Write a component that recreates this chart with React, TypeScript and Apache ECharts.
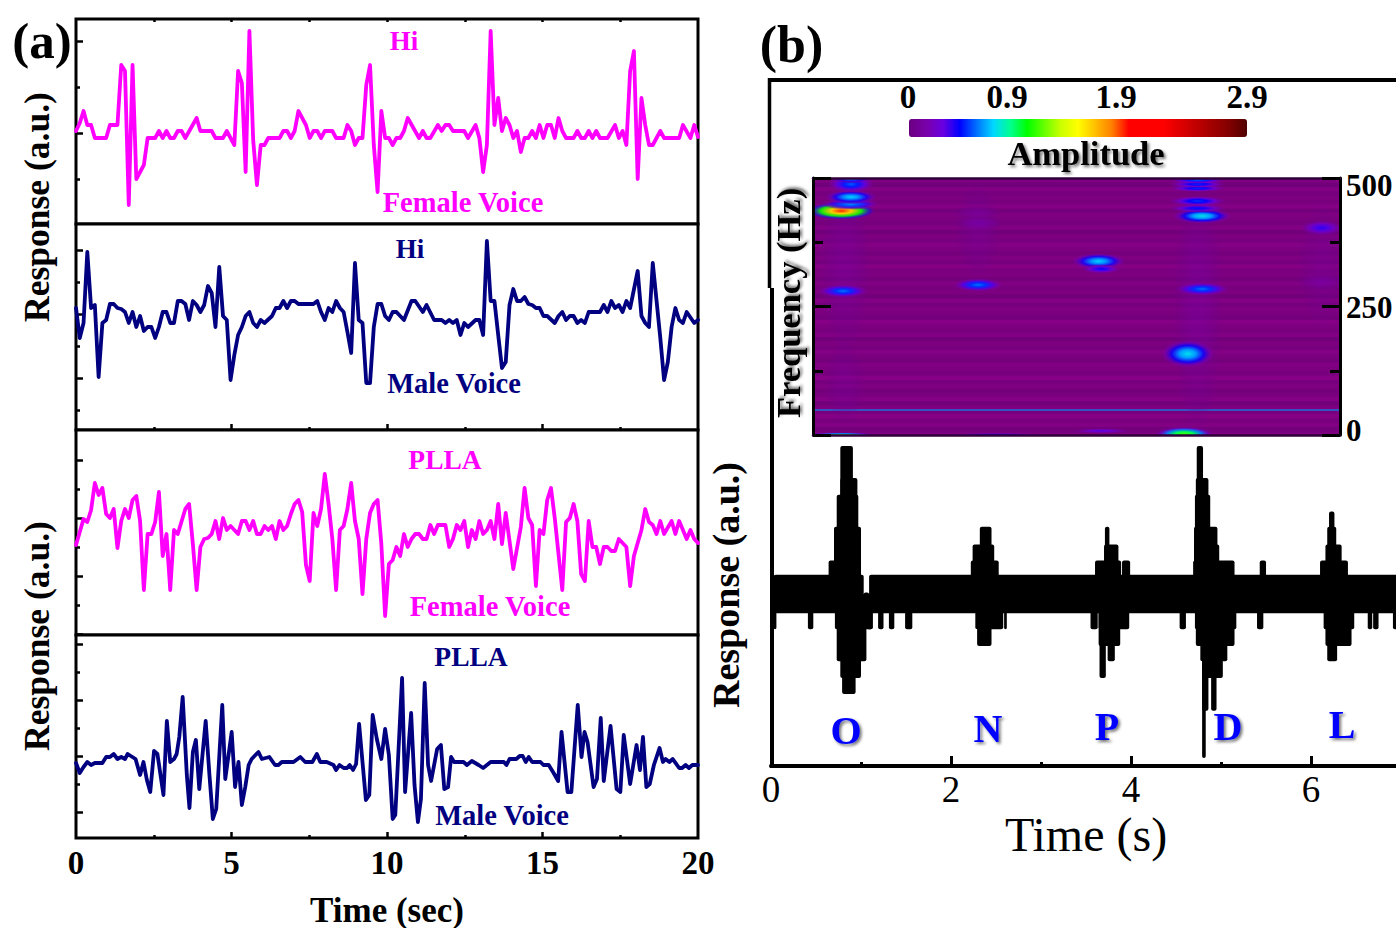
import React, { useEffect, useRef } from "react";
import * as echarts from "echarts";

const FONT = '"Liberation Serif", "Times New Roman", serif';
const MAGENTA = "#ff00ff";
const NAVY = "#000080";
const LETTER_BLUE = "#0000ff";

// Panel (a): all four traces share one sampling step. Each pair is [sample number, response in a.u.].
const SAMPLE_STEP_SEC = 20 / 165;

const hiFemale = [[0,2],[1,10],[2,22],[3,8],[4,8],[5,-5],[8,-5],[9,8],[11,8],[12,68],[13,62],[14,-72],[15,68],[16,-46],[18,-32],[19,-5],[21,-5],[22,2],[23,-5],[24,2],[25,-5],[26,-5],[27,2],[28,2],[29,-5],[32,15],[33,2],[36,2],[37,-5],[39,-5],[40,2],[42,-12],[43,62],[44,50],[45,-39],[46,102],[47,-7],[48,-52],[49,-12],[50,-12],[51,-5],[54,-5],[55,2],[56,2],[57,-5],[58,2],[59,22],[61,8],[62,-5],[63,2],[64,2],[65,-5],[66,2],[68,2],[69,-5],[71,-5],[72,8],[73,2],[74,-12],[75,-5],[76,-5],[77,48],[78,68],[79,-12],[80,-59],[81,22],[82,-5],[83,-5],[84,-12],[85,-5],[86,-5],[87,2],[88,15],[91,-5],[92,2],[93,-5],[94,-5],[96,8],[97,2],[98,8],[99,8],[100,2],[103,2],[104,-5],[106,8],[107,-5],[108,-39],[109,-12],[110,102],[111,8],[112,35],[113,2],[114,15],[115,8],[116,-5],[117,2],[118,-19],[119,-5],[120,-5],[121,2],[122,-5],[123,8],[124,-5],[125,8],[126,8],[127,-5],[128,15],[129,2],[130,-5],[132,-5],[133,2],[134,-5],[135,-5],[136,2],[137,-5],[138,2],[139,-5],[141,-5],[143,8],[144,-5],[145,2],[146,-12],[147,62],[148,82],[149,-46],[150,35],[151,8],[152,-12],[153,-12],[155,2],[156,-5],[160,-5],[161,8],[163,-5],[164,8],[165,-4]];

const hiMale = [[0,6],[1,-24],[2,-9],[3,62],[4,6],[5,9],[6,-63],[7,-9],[8,-6],[9,10],[10,10],[11,6],[12,5],[13,2],[14,-9],[15,2],[16,-13],[17,-2],[18,-17],[19,-13],[20,-13],[21,-24],[22,-13],[23,2],[24,2],[25,-9],[26,-9],[27,13],[28,13],[29,10],[30,-6],[31,13],[32,9],[33,2],[34,9],[35,28],[36,21],[37,-13],[38,47],[39,-2],[40,-6],[41,-66],[42,-41],[43,-21],[44,-13],[45,-2],[46,2],[47,-9],[48,-13],[49,-6],[50,-9],[52,-2],[53,6],[54,6],[55,13],[56,6],[57,13],[58,13],[59,10],[63,10],[64,13],[65,2],[66,-6],[67,6],[68,2],[69,13],[70,6],[71,2],[72,-18],[73,-39],[74,51],[75,-6],[76,-9],[77,-69],[78,-69],[79,-13],[80,10],[81,10],[82,-2],[83,-6],[84,2],[85,2],[87,-6],[89,13],[90,13],[92,2],[93,9],[95,-6],[97,-6],[98,-9],[99,-6],[100,-9],[101,-6],[102,-21],[103,-9],[104,-13],[106,-6],[107,-6],[108,-21],[109,73],[110,13],[111,13],[112,-21],[113,-54],[114,-48],[115,9],[116,25],[117,13],[118,13],[119,17],[120,10],[121,9],[122,6],[123,6],[124,-2],[125,-2],[127,-9],[128,-2],[129,2],[130,-6],[131,-2],[132,-2],[133,-9],[134,-6],[135,-9],[136,2],[139,2],[140,9],[141,2],[142,13],[143,6],[144,9],[145,2],[146,13],[147,6],[149,43],[150,-2],[151,-9],[152,-13],[153,51],[155,-24],[156,-66],[157,-48],[158,-13],[159,6],[160,-6],[161,-9],[162,2],[164,-9],[165,-6]];

const pllaFemale = [[0,-27],[1,-14],[2,-1],[3,-4],[4,8],[5,35],[6,23],[7,30],[8,4],[9,0],[10,9],[11,-30],[12,-3],[13,9],[14,0],[15,18],[16,22],[17,-3],[18,-72],[19,-16],[20,-16],[21,-4],[22,26],[23,-38],[24,-16],[25,-72],[26,-12],[27,-16],[29,9],[30,14],[31,-26],[32,-72],[33,-29],[34,-21],[35,-20],[36,-16],[37,-3],[38,-21],[39,0],[40,-12],[41,-8],[43,-16],[44,-3],[45,-3],[46,-12],[47,-3],[48,-16],[49,-16],[50,-8],[51,-12],[52,-8],[53,-21],[54,-3],[55,-12],[56,-8],[57,4],[58,14],[59,18],[60,6],[61,-47],[62,-63],[63,5],[64,-8],[65,9],[66,44],[67,14],[68,-21],[69,-72],[70,-12],[71,-8],[72,9],[73,35],[74,-3],[75,-21],[76,-76],[77,-21],[78,5],[79,14],[80,18],[81,-26],[82,-98],[83,-46],[84,-42],[85,-29],[86,-38],[87,-16],[88,-29],[89,-21],[90,-16],[91,-16],[92,-21],[93,-21],[94,-7],[95,-16],[96,-7],[98,-7],[99,-29],[100,-21],[101,-7],[102,-12],[103,-3],[104,-29],[105,-12],[106,-21],[107,-3],[108,-16],[109,-12],[110,-3],[111,-21],[112,14],[113,-26],[114,5],[116,-51],[118,-9],[119,30],[120,0],[121,-7],[122,-68],[123,-12],[124,-16],[125,18],[126,30],[127,0],[129,-72],[130,-4],[131,0],[132,14],[133,-3],[134,-56],[135,-63],[136,-3],[137,-29],[138,-29],[139,-46],[140,-29],[141,-29],[142,-33],[143,-33],[144,-21],[146,-29],[147,-68],[148,-38],[150,-12],[151,9],[152,-4],[153,-7],[154,-16],[155,-3],[156,-16],[158,-3],[159,-16],[160,-3],[162,-21],[163,-12],[164,-21],[165,-25]];

const pllaMale = [[0,-7],[1,-17],[2,-11],[3,-6],[4,-9],[5,-7],[7,-7],[8,-1],[9,-1],[10,2],[11,-3],[12,-1],[13,-3],[13.7,2],[15.8,-3],[17,-19],[17.9,-6],[18.8,-24],[19.7,-36],[20.7,5],[21.6,2],[23.2,-39],[24.1,35],[25,-6],[26,-3],[26.7,2],[27.4,19],[28.3,59],[29.4,-19],[30.1,-52],[31,4],[31.8,16],[32.7,-33],[34.4,35],[35.4,-19],[36.3,-63],[37.2,-53],[38.8,51],[39.6,-23],[41.3,24],[42.2,-31],[43.1,-6],[44,-49],[44.9,-31],[45.8,-9],[46.6,-3],[48.4,4],[49.3,-3],[51.3,-1],[52.8,-9],[53.7,-9],[54.6,-6],[57.7,-6],[59.5,-1],[60.8,-6],[62.7,-6],[63.9,2],[64.8,-6],[66.5,-6],[68.3,-9],[69,-14],[69.9,-9],[71,-12],[71.9,-12],[72.6,-9],[73.5,-14],[74.3,-8],[75.1,32],[76.9,-44],[77.8,-39],[78.7,41],[79.8,17],[81,-3],[82,27],[83,1],[84,-63],[84.7,-59],[86.5,78],[87.3,-36],[88.9,43],[89.8,-29],[90.7,-66],[91.5,-43],[92.5,73],[93.4,-9],[94.2,-25],[95.8,7],[96.8,11],[97.7,-33],[98.7,-31],[99.5,-1],[100.3,-6],[102.8,-6],[103.7,-9],[105,-5],[106.8,-9],[108,-12],[110,-6],[113.5,-6],[114.2,-9],[115,-3],[116.8,-3],[117.7,0],[118.5,0],[119.3,-6],[120.1,-1],[121,-6],[123.2,-6],[124,-9],[125.4,-9],[126.7,-17],[127.9,-25],[128.8,24],[130.4,-36],[131.4,-36],[133.1,51],[134.1,-1],[134.9,24],[135.7,14],[137.3,-31],[138.2,-23],[139.2,38],[140,-25],[141.8,30],[143.4,-33],[144.4,-36],[145.3,21],[147,-28],[148.7,11],[149.6,-14],[150.4,19],[151.3,-31],[152.2,-28],[153.3,-9],[154.8,8],[155.7,-6],[156.4,-3],[157.4,-6],[158.3,-3],[160,-12],[160.8,-12],[161.7,-9],[162.6,-12],[163.5,-9],[165,-9]];

const timeMajorTicks = [5, 10, 15];
const timeMinorTicks = [2.5, 7.5, 12.5, 17.5];
const timeLabels = [0, 5, 10, 15, 20];

// Panel (b): waveform columns, each [start s, end s, upper level, lower level].
const waveBand = [[0.03,1.03,1.2,-1.2],[1.03,1.09,0.1,-1.2],[1.09,7.0,1.2,-1.2]];
const waveSpikes = [
  [0.03,0.06,0,-2.2],[0.41,0.47,0,-2.2],[1.06,1.13,0,-2.2],[1.19,1.25,0,-2.2],[1.31,1.37,0,-2.2],[1.49,1.57,0,-2.2],
  [2.59,2.62,0,-2.2],[3.55,3.63,0,-2.2],[3.90,3.99,2.1,0],[4.54,4.61,0,-2.2],[5.43,5.50,2.1,0],[5.40,5.47,0,-2.2],
  [6.63,6.68,0,-2.2],[6.69,6.75,0,-2.2],[6.91,7.0,0,-2.2],
];
const waveO = [[0.64,1.00,2.1,0],[0.70,1.00,4.2,0],[0.73,0.97,6.2,0],[0.77,0.96,7.25,0],[0.77,0.91,9.25,0],[0.71,1.13,0,-2.2],[0.73,1.06,0,-4.2],[0.77,1.00,0,-5.25],[0.79,0.94,0,-6.25]];
const waveN = [[2.22,2.53,2.1,0],[2.24,2.48,3.1,0],[2.32,2.45,4.2,0],[2.27,2.58,0,-2.2],[2.29,2.45,0,-3.25]];
const waveP = [[3.60,3.89,2.1,0],[3.70,3.86,3.1,0],[3.71,3.76,4.2,0],[3.64,3.98,0,-2.2],[3.64,3.88,0,-3.25],[3.74,3.82,0,-4.2],[3.65,3.72,0,-5.25]];
const waveD = [[4.69,5.15,2.1,0],[4.70,4.98,3.1,0],[4.70,4.96,4.2,0],[4.71,4.88,6.2,0],[4.72,4.86,7.25,0],[4.73,4.80,9.25,0],[4.71,5.17,0,-2.2],[4.72,5.15,0,-3.25],[4.77,5.07,0,-4.2],[4.79,5.02,0,-5.25],[4.79,4.86,0,-7.3],[4.89,4.95,0,-7.3],[4.79,4.83,0,-10.25]];
const waveL = [[6.10,6.41,2.1,0],[6.16,6.34,3.1,0],[6.18,6.28,4.2,0],[6.20,6.26,5.15,0],[6.14,6.48,0,-2.2],[6.16,6.45,0,-3.25],[6.18,6.29,0,-4.2]];

// Spectrogram: hot spots [time s, frequency Hz, half-width s, half-height Hz, amplitude].
const spectrogramSpots = [
  [0.82,330,0.27,170,0.14],[0.82,100,0.22,80,0.12],[4.74,250,0.27,250,0.15],[2.30,400,0.24,90,0.12],[6.12,330,0.25,120,0.12],
  [0.78,436,0.38,17,1.85],[0.88,449,0.32,11,0.62],[0.89,463,0.29,14,0.72],[0.89,488,0.26,17,0.55],[0.89,500,0.26,10,0.7],
  [0.80,280,0.28,13,0.58],[2.30,292,0.28,13,0.58],[3.64,338,0.3,16,0.72],[3.67,323,0.22,9,0.42],
  [4.79,284,0.3,13,0.58],[4.79,426,0.33,15,0.76],[4.74,441,0.32,8,0.45],[4.74,455,0.32,10,0.5],
  [4.74,480,0.32,7,0.48],[4.74,488,0.32,7,0.48],[4.74,496,0.32,7,0.55],[4.63,158,0.3,27,0.75],
  [6.12,403,0.24,15,0.38],[6.12,298,0.28,16,0.18],[2.31,412,0.28,15,0.2],[2.29,432,0.28,13,0.15],
  [4.59,2,0.32,14,1.1],[0.78,0,0.4,5,1.1],[3.67,8,0.32,5,0.34],[2.5,0,0.6,4,0.5],
];
const spectrogramFaintRows = [0.06,0.02,0.09,0.04,0.11,0.03,0.07,0.01,0.1,0.05,0.02,0.08,0.04,0.12,0.03,0.06,0.09,0.02,0.05,0.1,0.03,0.07,0.01,0.09,0.04,0.06,0.11,0.02,0.05,0.08,0.03,0.1,0.01,0.06,0.04,0.09,0.02,0.07,0.05,0.11,0.03,0.08,0.02,0.06,0.1,0.04,0.07,0.01,0.09,0.03,0.05,0.08,0.02,0.11,0.04,0.06,0.03,0.09,0.01,0.07];
const bandLineFrequency = 48.6;

const amplitudeMax = 2.9;
const colormap = ["#6a0080","#7a00a8","#6a00e0","#0000ff","#0070ff","#00d8ff","#00ff90","#00ff00","#66ff00","#ccff00","#ffff00","#ffc000","#ff8000","#ff0000","#ff0000","#ff0000","#e00000","#c00000","#a00000","#800000","#500000"];

function hex2(c: string) {
  return [1, 3, 5].map((i) => parseInt(c.slice(i, i + 2), 16));
}
function colorAt(v: number, alpha = 1) {
  const f = Math.max(0, Math.min(0.9999, v / amplitudeMax)) * (colormap.length - 1);
  const i = Math.floor(f);
  const a = hex2(colormap[i]);
  const b = hex2(colormap[i + 1]);
  const m = a.map((x, k) => Math.round(x + (b[k] - x) * (f - i)));
  return `rgba(${m[0]},${m[1]},${m[2]},${alpha})`;
}
function rowColor(level: number) {
  return `rgb(${Math.round(112 + level * 200)},0,${Math.round(122 + level * 100)})`;
}

const toTrace = (d: number[][]) => d.map(([n, v]) => [n * SAMPLE_STEP_SEC, v]);

const panels = [
  { top: 19, height: 205, min: -91, max: 114, major: [92, 0, -92], minor: [46, -46], data: hiFemale, color: MAGENTA, ticksAt: "top" },
  { top: 224, height: 206, min: -116, max: 90, major: [64, 0, -64], minor: [32, -32, -96], data: hiMale, color: NAVY, ticksAt: "bottom" },
  { top: 430, height: 205, min: -117, max: 88, major: [58, 0, -58, -116], minor: [29, -29, -87], data: pllaFemale, color: MAGENTA, ticksAt: "none" },
  { top: 635, height: 203, min: -82, max: 121, major: [112, 56, 0, -56], minor: [84, 28, -28], data: pllaMale, color: NAVY, ticksAt: "labels" },
];

const texts: any[] = [
  ["(a)", 42, 41, 51, "#000", 0],
  ["Time (sec)", 387, 910, 35, "#000", 0],
  ["Hi", 404, 41, 27, MAGENTA, 0],
  ["Female Voice", 463, 202, 28.5, MAGENTA, 0],
  ["Hi", 410, 249, 27, NAVY, 0],
  ["Male Voice", 454, 383, 28.5, NAVY, 0],
  ["PLLA", 445, 459, 27.5, MAGENTA, 0],
  ["Female Voice", 490, 606, 28.5, MAGENTA, 0],
  ["PLLA", 471, 656.5, 27.5, NAVY, 0],
  ["Male Voice", 502, 815, 28.5, NAVY, 0],
  ["Response (a.u.)", 37, 207, 35.5, "#000", 1],
  ["Response (a.u.)", 37, 636, 35.5, "#000", 1],
  ["(b)", 791.5, 44, 52, "#000", 0],
  ["0", 908, 97, 33, "#000", 0],
  ["0.9", 1007, 97, 33, "#000", 0],
  ["1.9", 1116, 97, 33, "#000", 0],
  ["2.9", 1247, 97, 33, "#000", 0],
  ["Response (a.u.)", 726, 585, 38, "#000", 1],
];
const shadowTexts: any[] = [
  ["Amplitude", 1086, 153, 34.5, "#000", 0],
  ["Frequency (Hz)", 788, 303, 34.5, "#000", 1],
  ["O", 846, 730, 40, LETTER_BLUE, 0],
  ["N", 988, 728, 40, LETTER_BLUE, 0],
  ["P", 1107, 726, 40, LETTER_BLUE, 0],
  ["D", 1228, 726, 40, LETTER_BLUE, 0],
  ["L", 1342, 724, 40, LETTER_BLUE, 0],
];

function makeText(t: any[], shadow: boolean) {
  return {
    type: "text",
    x: t[1],
    y: t[2],
    rotation: t[5] ? Math.PI / 2 : 0,
    z: 20,
    style: {
      text: t[0],
      fill: t[4],
      font: `bold ${t[3]}px ${FONT}`,
      textAlign: "center",
      textVerticalAlign: "middle",
      ...(shadow ? { textShadowBlur: 3, textShadowColor: "rgba(0,0,0,0.55)", textShadowOffsetX: 2, textShadowOffsetY: 2 } : {}),
    },
  };
}

function buildOption() {
  const grid: any[] = [];
  const xAxis: any[] = [];
  const yAxis: any[] = [];
  const series: any[] = [];

  const hiddenBase = { axisLine: { show: false, onZero: false }, splitLine: { show: false }, axisLabel: { show: false }, axisTick: { show: false } };

  panels.forEach((p, i) => {
    grid.push({ left: 76, top: p.top, width: 622, height: p.height, show: true, borderColor: "#000", borderWidth: 3, backgroundColor: "#fff", containLabel: false });
    const xMain = xAxis.length;
    const yMain = yAxis.length;
    const atBottom = p.ticksAt !== "top";
    const majorLen = p.ticksAt === "top" ? 3 : 6;
    const minorLen = 3;
    const tickOn = p.ticksAt !== "none";
    xAxis.push({
      ...hiddenBase, type: "value", gridIndex: i, min: 0, max: 20, position: atBottom ? "bottom" : "top",
      axisTick: { show: tickOn, inside: true, length: majorLen, customValues: timeMajorTicks, lineStyle: { color: "#000", width: 2.5 } },
      axisLabel: p.ticksAt === "labels"
        ? { show: true, customValues: timeLabels, margin: 8, color: "#000", fontFamily: FONT, fontWeight: "bold", fontSize: 33, formatter: (v: number) => String(v) }
        : { show: false },
    });
    xAxis.push({
      ...hiddenBase, type: "value", gridIndex: i, min: 0, max: 20, position: atBottom ? "bottom" : "top",
      axisTick: { show: tickOn, inside: true, length: minorLen, customValues: timeMinorTicks, lineStyle: { color: "#000", width: 2.5 } },
    });
    yAxis.push({
      ...hiddenBase, type: "value", gridIndex: i, min: p.min, max: p.max, position: "left",
      axisTick: { show: true, inside: true, length: 7, customValues: p.major, lineStyle: { color: "#000", width: 2.5 } },
    });
    yAxis.push({
      ...hiddenBase, type: "value", gridIndex: i, min: p.min, max: p.max, position: "left",
      axisTick: { show: true, inside: true, length: 4, customValues: p.minor, lineStyle: { color: "#000", width: 2.5 } },
    });
    series.push({
      type: "line", xAxisIndex: xMain, yAxisIndex: yMain, data: toTrace(p.data), showSymbol: false, symbol: "none", silent: true,
      lineStyle: { color: p.color, width: 3.8, join: "round", cap: "round" }, smooth: false, clip: false, z: 3,
    });
  });

  // Panel (b) outer axes
  const gOuter = grid.length;
  grid.push({ left: 771, top: 80, width: 625, height: 686, show: false });
  const xOuter = xAxis.length;
  xAxis.push({
    type: "value", gridIndex: gOuter, min: 0, max: 6.944, position: "bottom", splitLine: { show: false },
    axisLine: { show: true, onZero: false, lineStyle: { color: "#000", width: 4 } },
    axisTick: { show: true, inside: true, length: 10, customValues: [0, 2, 4, 6], lineStyle: { color: "#000", width: 3 } },
    axisLabel: { show: true, customValues: [0, 2, 4, 6], margin: 5, color: "#000", fontFamily: FONT, fontSize: 37, formatter: (v: number) => String(v) },
  });
  xAxis.push({
    ...hiddenBase, type: "value", gridIndex: gOuter, min: 0, max: 6.944, position: "bottom",
    axisTick: { show: true, inside: true, length: 4, customValues: [1, 3, 5], lineStyle: { color: "#000", width: 3 } },
  });
  xAxis.push({
    ...hiddenBase, type: "value", gridIndex: gOuter, min: 0, max: 6.944, position: "top",
    axisLine: { show: true, onZero: false, lineStyle: { color: "#000", width: 4 } },
  });
  const yOuter = yAxis.length;
  yAxis.push({ ...hiddenBase, type: "value", gridIndex: gOuter, min: -10.75, max: 32.125, position: "left" });

  const waveColumns = [...waveBand, ...waveSpikes, ...waveO, ...waveN, ...waveP, ...waveD, ...waveL];
  series.push({
    type: "custom", xAxisIndex: xOuter, yAxisIndex: yOuter, data: waveColumns, silent: true, clip: false, z: 3,
    encode: { x: [0, 1], y: [2, 3] },
    renderItem: (_p: any, api: any) => {
      const a = api.coord([api.value(0), api.value(2)]);
      const b = api.coord([api.value(1), api.value(3)]);
      return {
        type: "rect",
        shape: { x: a[0], y: a[1], width: Math.max(b[0] - a[0], 2), height: b[1] - a[1], r: 2 },
        style: { fill: "#000" },
      };
    },
  });

  // Spectrogram
  const gSpec = grid.length;
  grid.push({ left: 813, top: 178, width: 527, height: 257, show: true, backgroundColor: "#74008a", borderWidth: 0, borderColor: "transparent" });
  const tMin = 0.467;
  const tMax = 6.322;
  const xSpec = xAxis.length;
  xAxis.push({ ...hiddenBase, type: "value", gridIndex: gSpec, min: tMin, max: tMax, position: "bottom", z: 6,
    axisLine: { show: true, onZero: false, lineStyle: { color: "#30003a", width: 2.5 } } });
  xAxis.push({ ...hiddenBase, type: "value", gridIndex: gSpec, min: tMin, max: tMax, position: "top", z: 6,
    axisLine: { show: true, onZero: false, lineStyle: { color: "#30003a", width: 2.5 } } });
  const ySpec = yAxis.length;
  const specAxis = (position: string, values: number[], length: number, line: boolean) => ({
    ...hiddenBase, type: "value", gridIndex: gSpec, min: 0, max: 500, position, z: 6,
    axisLine: { show: line, onZero: false, lineStyle: { color: "#000", width: 3 } },
    axisTick: { show: true, inside: true, length, customValues: values, lineStyle: { color: "#000", width: 3 } },
  });
  yAxis.push(specAxis("left", [0, 250, 500], 18, true));
  yAxis.push(specAxis("left", [125, 375], 10, false));
  yAxis.push(specAxis("right", [0, 250, 500], 18, true));
  yAxis.push(specAxis("right", [125, 375], 10, false));
  yAxis.push({
    ...hiddenBase, type: "value", gridIndex: gSpec, min: -10.2, max: 514.3, position: "right",
    axisLabel: { show: true, customValues: [0, 250, 500], margin: 6, color: "#000", fontFamily: FONT, fontWeight: "bold", fontSize: 31, formatter: (v: number) => String(v) },
  });

  const rowHeight = 500 / spectrogramFaintRows.length;
  series.push({
    type: "custom", xAxisIndex: xSpec, yAxisIndex: ySpec, silent: true, z: 3, clip: true,
    data: spectrogramFaintRows.map((level, i) => [i * rowHeight, level]),
    encode: { x: -1, y: 0 },
    renderItem: (_p: any, api: any) => {
      const a = api.coord([tMin, api.value(0) + rowHeight]);
      const b = api.coord([tMax, api.value(0)]);
      return { type: "rect", shape: { x: a[0], y: a[1], width: b[0] - a[0], height: b[1] - a[1] + 0.5 }, style: { fill: rowColor(api.value(1)) } };
    },
  });
  series.push({
    type: "line", xAxisIndex: xSpec, yAxisIndex: ySpec, silent: true, symbol: "none", z: 3,
    data: [[tMin, bandLineFrequency], [tMax, bandLineFrequency]],
    lineStyle: { color: "#1f6fd8", width: 1.5 },
  });
  const spotsIndex = series.length;
  series.push({
    type: "custom", xAxisIndex: xSpec, yAxisIndex: ySpec, silent: true, z: 4, clip: true,
    data: spectrogramSpots,
    encode: { x: 0, y: 1 },
    renderItem: (_p: any, api: any) => {
      const c = api.coord([api.value(0), api.value(1)]);
      const e = api.coord([api.value(0) + api.value(2), api.value(1) + api.value(3)]);
      const amp = api.value(4);
      const strength = Math.min(1, amp / 0.4);
      return {
        type: "ellipse",
        shape: { cx: c[0], cy: c[1], rx: Math.abs(e[0] - c[0]), ry: Math.abs(e[1] - c[1]) },
        style: {
          fill: new (echarts.graphic as any).RadialGradient(0.5, 0.5, 0.5, [
            { offset: 0, color: colorAt(amp, strength) },
            { offset: 0.3, color: colorAt(amp * 0.85, strength) },
            { offset: 0.6, color: colorAt(amp * 0.55, 0.9 * strength) },
            { offset: 0.85, color: colorAt(amp * 0.25, 0.5 * strength) },
            { offset: 1, color: colorAt(0.1, 0) },
          ]),
        },
      };
    },
  });

  return {
    animation: false,
    backgroundColor: "#fff",
    grid,
    xAxis,
    yAxis,
    series,
    visualMap: {
      type: "continuous", min: 0, max: amplitudeMax, seriesIndex: spotsIndex, dimension: 4, orient: "horizontal",
      left: 909, top: 119, itemWidth: 18, itemHeight: 338, calculable: false, realtime: false, showLabel: false, text: undefined,
      padding: 0, hoverLink: false, borderRadius: 0, itemBorderRadius: 0, inRange: { color: colormap },
    },
    graphic: [
      { type: "line", shape: { x1: 769.5, y1: 78, x2: 769.5, y2: 288 }, style: { stroke: "#000", lineWidth: 3.5 } },
      { type: "line", shape: { x1: 772, y1: 288, x2: 772, y2: 768 }, style: { stroke: "#000", lineWidth: 4 } },
      ...texts.map((t) => makeText(t, false)),
      ...shadowTexts.map((t) => makeText(t, true)),
      {
        type: "text", x: 1086, y: 834, z: 20,
        style: { text: "Time (s)", fill: "#000", font: `48px ${FONT}`, textAlign: "center", textVerticalAlign: "middle" },
      },
    ],
  };
}

export default function App() {
  const ref = useRef<HTMLDivElement>(null);
  useEffect(() => {
    if (!ref.current) return;
    const chart = echarts.init(ref.current, undefined, { renderer: "svg" });
    chart.setOption(buildOption() as any);
    return () => chart.dispose();
  }, []);
  return <div ref={ref} style={{ position: "absolute", left: 0, top: 0, width: 1396, height: 928 }} />;
}
